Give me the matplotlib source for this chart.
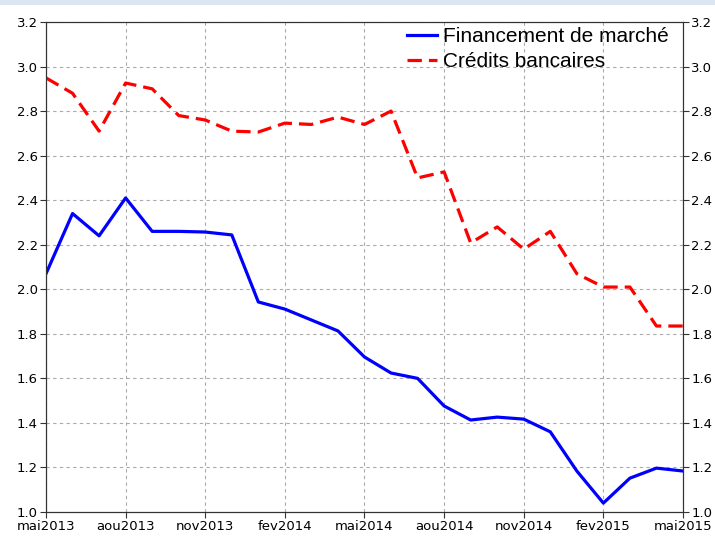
import numpy as np
import matplotlib
matplotlib.use("Agg")
import matplotlib.pyplot as plt
from matplotlib.patches import Rectangle

# Monthly data, mai2013 .. mai2015
months = ["mai2013", "jun2013", "jul2013", "aou2013", "sep2013", "oct2013",
          "nov2013", "dec2013", "jan2014", "fev2014", "mar2014", "avr2014",
          "mai2014", "jun2014", "jul2014", "aou2014", "sep2014", "oct2014",
          "nov2014", "dec2014", "jan2015", "fev2015", "mar2015", "avr2015",
          "mai2015"]
financement = [2.07, 2.34, 2.24, 2.41, 2.26, 2.26, 2.257, 2.244, 1.943,
               1.911, 1.862, 1.813, 1.696, 1.624, 1.60, 1.476, 1.413, 1.426,
               1.417, 1.36, 1.184, 1.04, 1.152, 1.197, 1.184]
credits = [2.949, 2.88, 2.71, 2.926, 2.90, 2.78, 2.76, 2.71, 2.706, 2.746,
           2.74, 2.773, 2.74, 2.80, 2.50, 2.527, 2.208, 2.28, 2.18, 2.26,
           2.07, 2.01, 2.01, 1.835, 1.835]
yticks = [1.0, 1.2, 1.4, 1.6, 1.8, 2.0, 2.2, 2.4, 2.6, 2.8, 3.0, 3.2]

x = np.arange(len(months))
xt = x[::3]
xl = [months[i] for i in xt]

fig = plt.figure(figsize=(7.15, 5.37), dpi=100)
ax = fig.add_axes([46 / 715, 1 - 512 / 537, (683 - 46) / 715, (512 - 22) / 537])

# light blue strip at the very top
fig.patches.append(Rectangle((0, 1 - 5 / 537), 1, 5 / 537, transform=fig.transFigure,
                             facecolor="#dce6f2", edgecolor="none"))

ax.plot(x, financement, color="#0000ff", lw=2.3, label="Financement de marché")
ax.plot(x, credits, color="#ff0000", lw=2.3, ls=(0, (4.5, 2.2)), label="Crédits bancaires")

ax.set_xlim(0, len(months) - 1)
ax.set_ylim(1.0, 3.2)
ax.set_xticks(xt)
ax.set_xticklabels(xl)
ax.set_yticks(yticks)
ax.set_yticklabels(["%.1f" % v for v in yticks])
ax.grid(True, color="#aaaaaa", ls=(0, (3, 3)), lw=0.8)
ax.tick_params(labelsize=9.5, length=4, pad=2, color="#333333", labelcolor="black")
for s in ax.spines.values():
    s.set_color("#333333")

ax2 = ax.twinx()
ax2.set_ylim(1.0, 3.2)
ax2.set_yticks(yticks)
ax2.set_yticklabels(["%.1f" % v for v in yticks])
ax2.tick_params(labelsize=9.5, length=4, pad=2, color="#333333", labelcolor="black")
for s in ax2.spines.values():
    s.set_color("#333333")

leg = ax.legend(loc="upper right", bbox_to_anchor=(1 - 9 / 637, 1), frameon=False,
                handlelength=1.45, handletextpad=0.3, labelspacing=0.3,
                borderaxespad=0.05, borderpad=0.2,
                prop={"family": "Liberation Sans", "size": 15})

fig.savefig("out.png", dpi=100)
